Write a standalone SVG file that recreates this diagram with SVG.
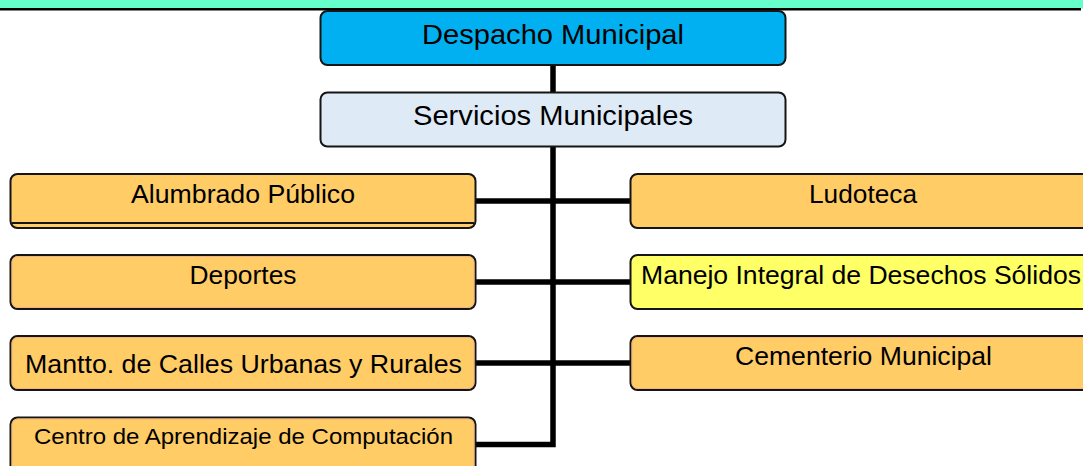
<svg xmlns="http://www.w3.org/2000/svg" width="1083" height="466" viewBox="0 0 1083 466">
<style>
.box{stroke:#151515;stroke-width:2}
.blue{fill:#00B0F0}
.lb{fill:#DEEAF6}
.or{fill:#FFCC66}
.ye{fill:#FFFF66}
.pk{fill:none;stroke:#F4B183;stroke-width:1}
.t{font-family:"Liberation Sans",Arial,sans-serif;fill:#000;text-anchor:middle}
.big{font-size:27.5px}
.sm{font-size:25.5px}
.xs{font-size:22.5px}
.con{stroke:#000;stroke-width:5.5;fill:none}
</style>
<rect x="0" y="0" width="1083" height="466" fill="#fff"/>
<rect x="0" y="0" width="1083" height="8.5" fill="#66FFCC"/>
<line x1="0" y1="9.3" x2="1081" y2="9.3" stroke="#000" stroke-width="2.4"/>
<g id="connectors">
<line class="con" x1="553" y1="65" x2="553" y2="93"/>
<polyline class="con" points="553,146 553,444.5 476,444.5"/>
<line class="con" x1="476" y1="201" x2="631" y2="201"/>
<line class="con" x1="476" y1="282" x2="631" y2="282"/>
<line class="con" x1="476" y1="363" x2="631" y2="363"/>
</g>
<g id="despacho">
<rect class="box blue" x="320.5" y="11" width="465" height="54" rx="7"/>
<text class="t big" x="553" y="43.5" textLength="262" lengthAdjust="spacingAndGlyphs">Despacho Municipal</text>
</g>
<g id="servicios">
<rect class="box lb" x="320.5" y="92.5" width="465" height="54" rx="7"/>
<text class="t big" x="553" y="124.5" textLength="280" lengthAdjust="spacingAndGlyphs">Servicios Municipales</text>
</g>
<g id="alumbrado">
<rect class="box or" x="10.5" y="174" width="465" height="54" rx="7"/>
<line x1="12" y1="223" x2="474" y2="223" stroke="#151515" stroke-width="2"/>
<text class="t sm" x="243" y="203" textLength="224" lengthAdjust="spacingAndGlyphs">Alumbrado Público</text>
</g>
<g id="deportes">
<rect class="box or" x="10.5" y="255" width="465" height="54" rx="7"/>
<rect class="pk" x="12" y="256.5" width="462" height="51" rx="6"/>
<text class="t sm" x="243" y="284" textLength="107" lengthAdjust="spacingAndGlyphs">Deportes</text>
</g>
<g id="mantto">
<rect class="box or" x="10.5" y="336" width="465" height="54" rx="7"/>
<rect class="pk" x="12" y="337.5" width="462" height="51" rx="6"/>
<text class="t sm" x="243.5" y="373" textLength="437" lengthAdjust="spacingAndGlyphs">Mantto. de Calles Urbanas y Rurales</text>
</g>
<g id="centro">
<rect class="box or" x="10.5" y="417.5" width="465" height="60" rx="7"/>
<rect class="pk" x="12" y="419" width="462" height="57" rx="6"/>
<text class="t xs" x="243.5" y="443.5" textLength="419" lengthAdjust="spacingAndGlyphs">Centro de Aprendizaje de Computación</text>
</g>
<g id="ludoteca">
<rect class="box or" x="630.5" y="174" width="465" height="54" rx="7"/>
<text class="t sm" x="863" y="203" textLength="108" lengthAdjust="spacingAndGlyphs">Ludoteca</text>
</g>
<g id="manejo">
<rect class="box ye" x="630.5" y="255" width="465" height="54" rx="7"/>
<text class="t sm" x="861" y="284" textLength="440" lengthAdjust="spacingAndGlyphs">Manejo Integral de Desechos Sólidos</text>
</g>
<g id="cementerio">
<rect class="box or" x="630.5" y="336" width="465" height="54" rx="7"/>
<rect class="pk" x="632" y="337.5" width="462" height="51" rx="6"/>
<text class="t sm" x="863.5" y="365" textLength="257" lengthAdjust="spacingAndGlyphs">Cementerio Municipal</text>
</g>
</svg>
